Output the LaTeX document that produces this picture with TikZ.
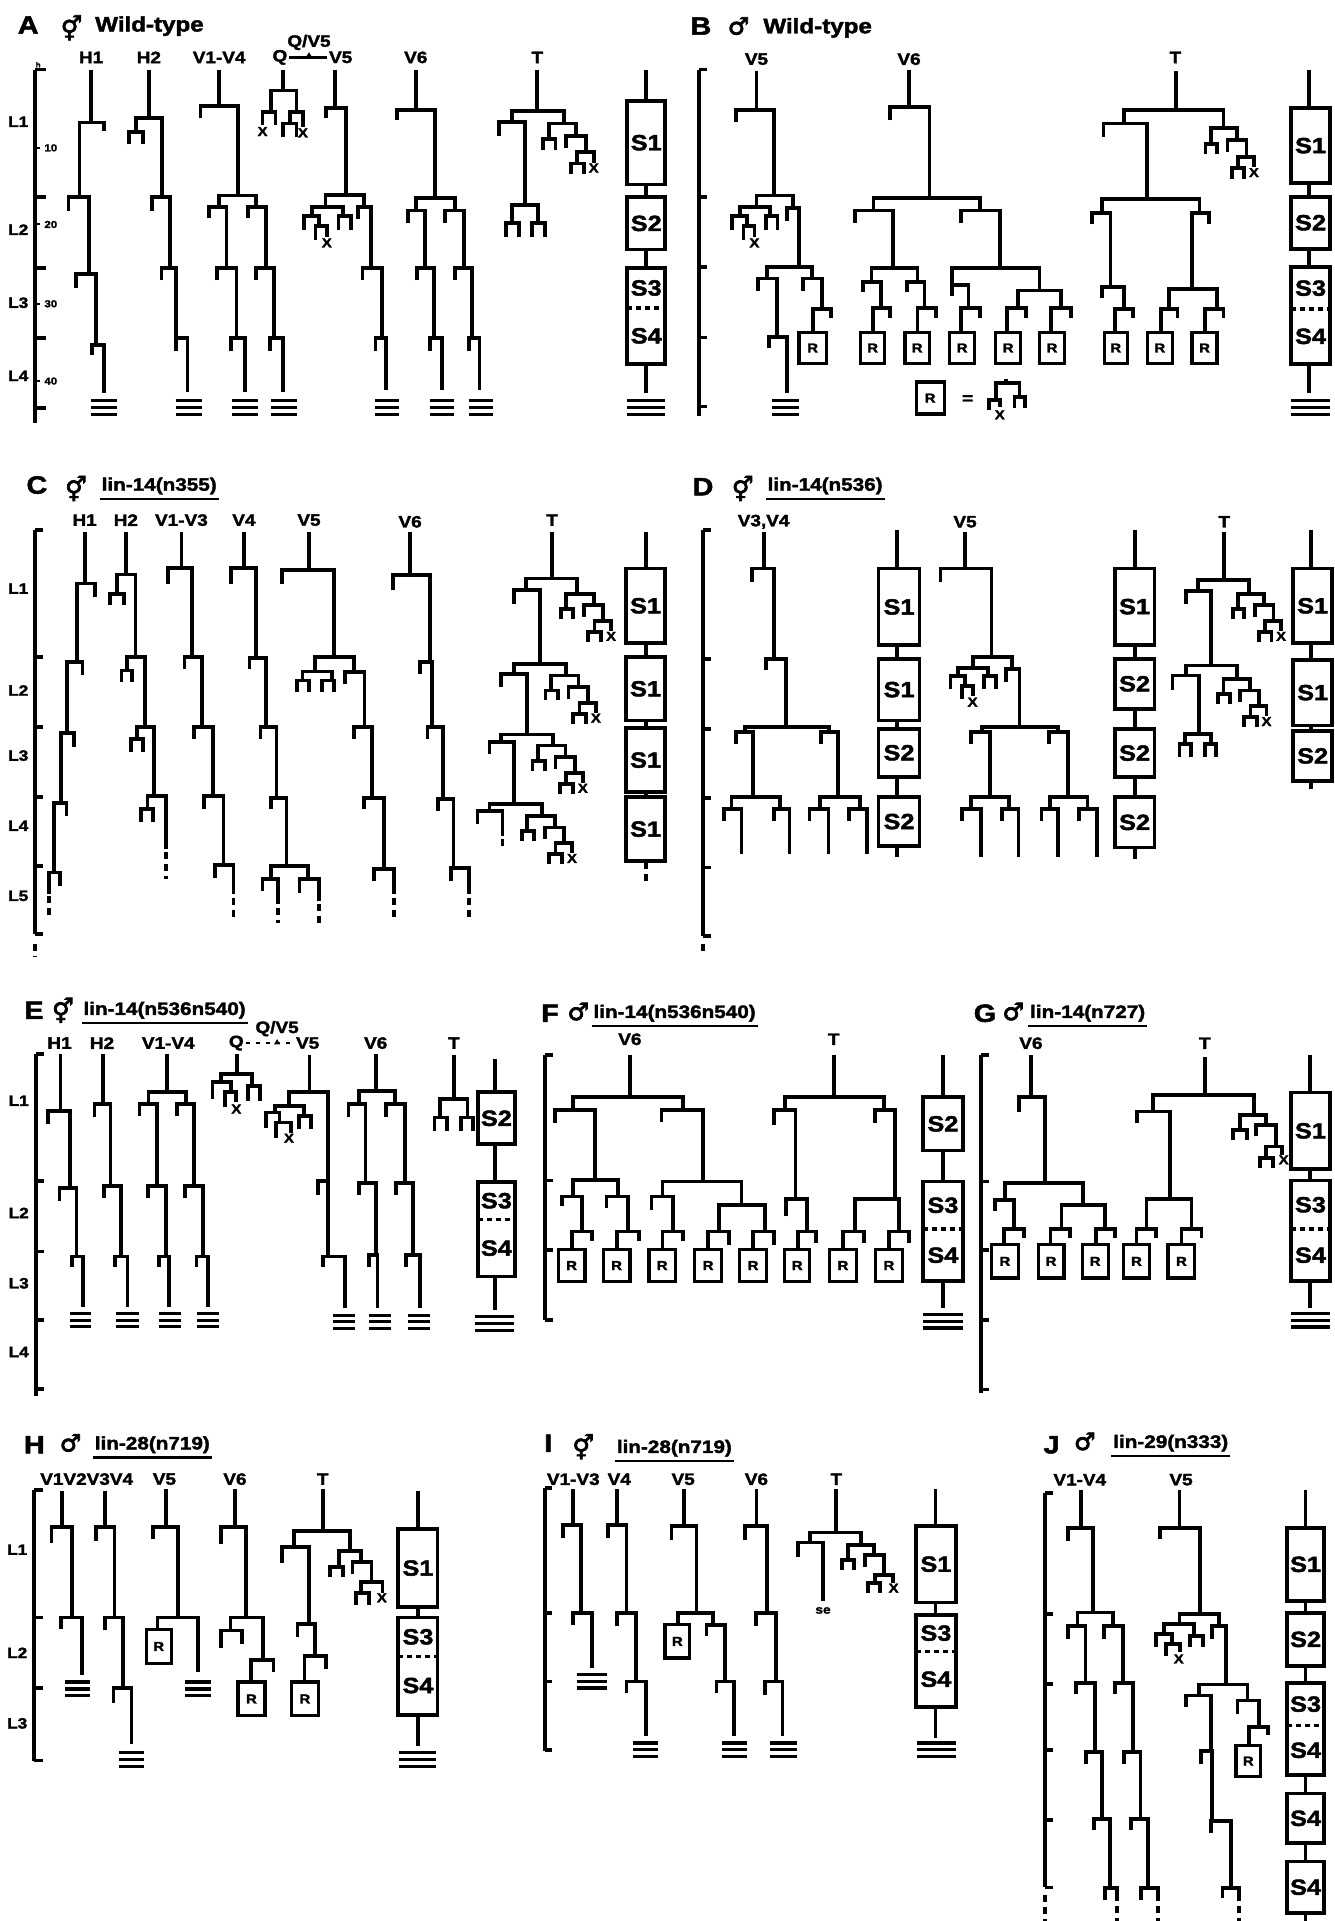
\documentclass[tikz,border=0pt]{standalone}
\usepackage{fontspec}
\setmainfont{Liberation Sans}[BoldFeatures={FakeBold=2,FakeStretch=1.15}]
\newfontfamily\symf{DejaVu Sans}[FakeBold=3]
\newcount\nc
\newcommand\mvl[3]{\draw (#1,#2)--(#1,#3);}
\newcommand\mdv[3]{\draw[dash pattern=on 7pt off 5pt] (#1,#2)--(#1,#3);}
\newcommand\mfk[5]{\draw (#1,#4)--(#1,#3)--(#2,#3)--(#2,#5);}
\newcommand\mtb[3]{\draw[line width=3.2pt] (#1,#3)--(#2,#3) (#1,#3+20)--(#2,#3+20) (#1,#3+40)--(#2,#3+40);}
\newcommand\mxd[2]{\global\advance\nc by 1 \node[xm] (x\the\nc) at (#1,#2) {X};}
\newcommand\mRb[4]{\global\advance\nc by 1 \draw[line width=3.3pt] (#1,#3) rectangle (#2,#4); \node[rl] (r\the\nc) at ({(#1+#2)/2},{(#3+#4)/2}) {R};}
\newcommand\mSb[5]{\global\advance\nc by 1 \draw (#1,#3) rectangle (#2,#4); \node[sl] (s\the\nc) at ({(#1+#2)/2},{(#3+#4)/2}) {#5};}
\newcommand\mSd[5]{\global\advance\nc by 1 \draw (#1,#3) rectangle (#2,#5); \draw[line width=3.3pt,dash pattern=on 5pt off 4pt] (#1,#4)--(#2,#4); \node[sl] (s\the\nc a) at ({(#1+#2)/2},{(#3+#4)/2}) {S3}; \node[sl] (s\the\nc b) at ({(#1+#2)/2},{(#4+#5)/2}) {S4};}
\newcommand\mul[1]{\draw[line width=2.6pt] (#1.south west)--(#1.south east);}
\newcommand\mTs[2]{%
 \mfk{#1}{#1+63}{#2}{#2+45}{#2+35}
 \mfk{#1-13}{#1+15}{#2+45}{#2+75}{#2+75}
 \mfk{#1+40}{#1+85}{#2+35}{#2+70}{#2+82}
 \mfk{#1+65}{#1+103}{#2+82}{#2+115}{#2+112}
 \mfk{#1+50}{#1+80}{#2+115}{#2+145}{#2+145}
 \mxd{#1+103}{#2+128}}
\newcommand\mVf[2]{%
 \mfk{#1}{#1+72}{#2}{#2+25}{#2+25}
 \mfk{#1-18}{#1+17}{#2+25}{#2+65}{#2+55}
 \mfk{#1+9}{#1+35}{#2+55}{#2+95}{#2+85}
 \mxd{#1+35}{#2+103}
 \mfk{#1+62}{#1+90}{#2+25}{#2+65}{#2+65}}
\begin{document}
\begin{tikzpicture}[x=1pt,y=-1pt,line width=3.8pt,line join=miter,
 lab/.style={font=\fontsize{16.5}{16.5}\selectfont\bfseries,inner sep=0pt},
 lL/.style={font=\fontsize{15}{15}\selectfont\bfseries,inner sep=0pt},
 ttl/.style={font=\fontsize{25}{25}\selectfont\bfseries,inner sep=0pt},
 wt/.style={font=\fontsize{21}{21}\selectfont\bfseries,inner sep=0pt,anchor=west},
 gen/.style={font=\fontsize{18}{18}\selectfont\bfseries,inner xsep=0pt,inner ysep=2.5pt,anchor=west},
 sl/.style={font=\fontsize{22}{22}\selectfont\bfseries,inner sep=0pt},
 rl/.style={font=\fontsize{13}{13}\selectfont\bfseries,inner sep=0pt},
 xm/.style={font=\fontsize{13}{13}\selectfont\bfseries,inner sep=0pt},
 hr/.style={font=\fontsize{10}{10}\selectfont\bfseries,inner sep=0pt},
 sym/.style={font=\fontsize{24}{24}\selectfont\symf,inner sep=0pt}]
\fill[white] (0,0) rectangle (1335,1921);
\useasboundingbox (0,0) rectangle (1335,1921);
% ================= A
\begin{scope}[xscale=.434,yscale=.348]
\node[ttl] (tA) at (65,72) {A};
\node[sym] (gA) at (165,80) {⚥};
\node[wt] (wA) at (215,75) {Wild-type};
\node[lab] (aH1) at (210,165) {H1};
\node[lab] (aH2) at (343,165) {H2};
\node[lab] (aV14) at (505,165) {V1-V4};
\node[lab] (aQ) at (645,165) {Q};
\node[lab] (aV5) at (785,165) {V5};
\node[lab] (aV6) at (958,165) {V6};
\node[lab] (aT) at (1238,165) {T};
\node[lab] (aQV) at (712,122) {Q/V5};
\draw[line width=2.2pt] (aQ.east)--(aV5.west);
\fill (703,168)--(721,168)--(712,150)--cycle;
\node[font=\fontsize{7}{7}\selectfont\bfseries,inner sep=0pt] (ah) at (88,186) {h};
\mvl{80}{200}{1215}
\foreach \t in {200,567,770,972,1172} \draw (80,\t)--(105,\t);
\foreach \t/\n in {425/10,645/20,873/30,1095/40} {\draw[line width=2pt] (80,\t)--(92,\t); \node[hr,anchor=west] (ah\n) at (98,\t) {\n};}
\node[lL] (aL1) at (42,350) {L1};
\node[lL] (aL2) at (42,660) {L2};
\node[lL] (aL3) at (42,870) {L3};
\node[lL] (aL4) at (42,1080) {L4};
% H1
\mvl{210}{200}{352} \mfk{183}{240}{352}{565}{375} \mfk{158}{205}{565}{605}{787} \mfk{175}{222}{787}{827}{992} \mfk{212}{240}{992}{1020}{1130} \mtb{210}{270}{1150}
% H2
\mvl{343}{200}{340} \mfk{313}{373}{340}{380}{565} \mfk{298}{330}{380}{415}{415} \mfk{350}{392}{565}{605}{770} \mfk{372}{405}{770}{805}{972} \mfk{405}{432}{972}{1010}{1125} \mtb{405}{465}{1150}
% V1-V4
\mvl{505}{200}{305} \mfk{462}{548}{305}{340}{562} \mfk{505}{590}{562}{595}{595}
\mfk{482}{522}{595}{625}{770} \mfk{572}{612}{595}{625}{770}
\mfk{500}{545}{770}{805}{972} \mfk{590}{632}{770}{805}{972}
\mfk{532}{565}{972}{1010}{1125} \mfk{622}{652}{972}{1010}{1125}
\mtb{535}{595}{1150} \mtb{625}{685}{1150}
% Q
\mvl{652}{200}{260} \mfk{625}{683}{260}{322}{322} \mfk{605}{635}{322}{360}{360} \mxd{605}{378}
\mfk{668}{698}{322}{355}{365} \mxd{698}{382} \mfk{652}{683}{355}{395}{395}
% V5
\mvl{772}{200}{310} \mfk{752}{797}{310}{340}{560} \mfk{750}{838}{560}{595}{595} \mVf{718}{595}
\mfk{825}{855}{595}{630}{770} \mfk{835}{880}{770}{805}{972} \mfk{865}{890}{972}{1010}{1120} \mtb{865}{920}{1150}
% V6
\mvl{958}{200}{315} \mfk{915}{1003}{315}{345}{570} \mfk{958}{1048}{570}{605}{605}
\mfk{940}{980}{605}{640}{770} \mfk{1025}{1070}{605}{640}{770}
\mfk{960}{1000}{770}{805}{972} \mfk{1048}{1088}{770}{805}{972}
\mfk{990}{1018}{972}{1010}{1120} \mfk{1080}{1105}{972}{1010}{1120}
\mtb{990}{1045}{1150} \mtb{1080}{1135}{1150}
% T
\mvl{1238}{200}{320} \mfk{1180}{1300}{320}{350}{355} \mfk{1150}{1210}{350}{390}{590}
\mfk{1180}{1240}{590}{640}{640} \mfk{1165}{1195}{640}{680}{680} \mfk{1225}{1255}{640}{680}{680}
\mTs{1265}{355}
% S
\mvl{1488}{200}{290} \mSb{1445}{1533}{290}{530}{S1} \mvl{1488}{530}{567} \mSb{1445}{1533}{567}{717}{S2}
\mvl{1488}{717}{770} \mSd{1445}{1533}{770}{885}{1045} \mvl{1488}{1045}{1130} \mtb{1445}{1533}{1150}
\end{scope}
% ================= B
\begin{scope}[shift={(680,0)},xscale=.418,yscale=.348]
\node[ttl] (tB) at (50,75) {B};
\node[sym] (gB) at (140,75) {♂};
\node[wt] (wB) at (195,80) {Wild-type};
\node[lab] (bV5) at (183,170) {V5};
\node[lab] (bV6) at (548,170) {V6};
\node[lab] (bT) at (1185,165) {T};
\mvl{45}{200}{1195}
\foreach \t in {200,565,768,970,1168} \draw (45,\t)--(65,\t);
% V5
\mvl{183}{205}{315} \mfk{133}{225}{315}{350}{562} \mfk{183}{270}{562}{595}{598} \mVf{143}{595}
\mfk{255}{285}{598}{635}{768} \mfk{208}{315}{768}{800}{800}
\mfk{187}{232}{800}{835}{968} \mfk{213}{255}{968}{1000}{1130} \mtb{220}{285}{1150}
\mfk{295}{340}{800}{835}{887} \mfk{318}{362}{887}{955}{915} \mRb{285}{350}{955}{1045}
% V6
\mvl{548}{200}{308} \mfk{503}{597}{308}{345}{568} \mfk{463}{717}{568}{605}{605}
\mfk{418}{510}{605}{640}{770} \mfk{458}{568}{770}{810}{810}
\mfk{437}{480}{810}{840}{885} \mfk{462}{503}{885}{955}{915} \mRb{432}{490}{955}{1045}
\mfk{543}{585}{810}{840}{885} \mfk{568}{612}{885}{955}{915} \mRb{538}{597}{955}{1045}
\mfk{672}{765}{605}{640}{770} \mfk{650}{860}{770}{818}{835}
\mfk{650}{690}{818}{850}{885} \mfk{673}{718}{885}{955}{915} \mRb{645}{705}{955}{1045}
\mfk{808}{912}{835}{885}{885}
\mfk{782}{827}{885}{955}{915} \mRb{755}{815}{955}{1045}
\mfk{888}{935}{885}{955}{915} \mRb{860}{920}{955}{1045}
% T
\mvl{1187}{205}{315} \mfk{1063}{1300}{315}{355}{368} \mfk{1013}{1117}{355}{395}{572}
\mfk{1010}{1243}{572}{612}{612} \mfk{985}{1030}{612}{645}{825} \mfk{1010}{1062}{825}{855}{887}
\mfk{1040}{1083}{887}{955}{915} \mRb{1015}{1070}{955}{1045}
\mfk{1225}{1265}{612}{830}{645} \mfk{1170}{1285}{830}{887}{887}
\mfk{1150}{1190}{887}{955}{915} \mRb{1118}{1178}{955}{1045}
\mfk{1255}{1300}{887}{955}{915} \mRb{1225}{1285}{955}{1045}
\mTs{1270}{368}
% S
\mvl{1505}{200}{310} \mSb{1462}{1555}{310}{527}{S1} \mvl{1505}{527}{565} \mSb{1462}{1555}{565}{715}{S2}
\mvl{1505}{715}{768} \mSd{1462}{1555}{768}{888}{1045} \mvl{1505}{1045}{1130} \mtb{1462}{1555}{1150}
% legend
\mRb{565}{632}{1098}{1190}
\node[lab] (beq) at (688,1148) {=};
\mvl{780}{1088}{1100} \mfk{755}{812}{1100}{1150}{1140} \mfk{740}{765}{1150}{1178}{1170} \mxd{765}{1192} \mfk{800}{825}{1140}{1172}{1172}
\end{scope}
% ================= C
\begin{scope}[shift={(0,460)},xscale=.434,yscale=.334]
\node[ttl] (tC) at (85,75) {C};
\node[sym] (gC) at (175,85) {⚥};
\node[gen] (nC) at (230,78) {lin-14(n355)}; \mul{nC}
\node[lab] (cH1) at (195,180) {H1};
\node[lab] (cH2) at (290,180) {H2};
\node[lab] (cV13) at (418,180) {V1-V3};
\node[lab] (cV4) at (562,180) {V4};
\node[lab] (cV5) at (712,180) {V5};
\node[lab] (cV6) at (945,185) {V6};
\node[lab] (cT) at (1272,180) {T};
\mvl{80}{210}{1420} \mdv{80}{1448}{1485}
\foreach \t in {210,590,800,1010,1215,1420} \draw (80,\t)--(100,\t);
\node[lL] (cL1) at (42,385) {L1};
\node[lL] (cL2) at (42,690) {L2};
\node[lL] (cL3) at (42,885) {L3};
\node[lL] (cL4) at (42,1095) {L4};
\node[lL] (cL5) at (42,1305) {L5};
% H1
\mvl{195}{215}{370} \mfk{178}{218}{370}{605}{410} \mfk{155}{190}{605}{818}{645} \mfk{140}{170}{818}{1028}{860}
\mfk{125}{153}{1028}{1235}{1065} \mfk{112}{138}{1235}{1300}{1275} \mdv{112}{1305}{1370}
% H2
\mvl{290}{215}{343} \mfk{270}{312}{343}{400}{590} \mfk{253}{285}{400}{435}{435}
\mfk{293}{335}{590}{630}{800} \mfk{280}{305}{630}{665}{665}
\mfk{315}{355}{800}{835}{1005} \mfk{302}{330}{835}{875}{875}
\mfk{340}{382}{1005}{1045}{1165} \mfk{325}{352}{1045}{1085}{1085} \mdv{382}{1175}{1255}
% V1-V3
\mvl{418}{215}{323} \mfk{387}{443}{323}{370}{590} \mfk{425}{465}{590}{625}{800} \mfk{447}{490}{800}{835}{1005}
\mfk{470}{515}{1005}{1045}{1212} \mfk{495}{538}{1212}{1250}{1300} \mdv{538}{1310}{1375}
% V4
\mvl{562}{215}{323} \mfk{532}{590}{323}{370}{593} \mfk{575}{612}{593}{625}{800} \mfk{600}{637}{800}{835}{1012}
\mfk{625}{660}{1012}{1045}{1215} \mfk{625}{710}{1215}{1255}{1255}
\mfk{605}{640}{1255}{1290}{1330} \mdv{640}{1340}{1385} \mfk{690}{735}{1255}{1295}{1320} \mdv{735}{1330}{1390}
% V5
\mvl{712}{215}{330} \mfk{650}{770}{330}{370}{590} \mfk{725}{815}{590}{633}{635}
\mfk{697}{765}{633}{660}{660} \mfk{685}{712}{660}{695}{695} \mfk{742}{770}{660}{695}{695}
\mfk{795}{840}{635}{670}{800} \mfk{815}{858}{800}{835}{1012} \mfk{838}{885}{1012}{1045}{1225}
\mfk{862}{908}{1225}{1260}{1300} \mdv{908}{1310}{1370}
% V6
\mvl{945}{215}{345} \mfk{905}{990}{345}{390}{605} \mfk{968}{995}{605}{640}{800} \mfk{985}{1020}{800}{835}{1015}
\mfk{1010}{1045}{1015}{1050}{1222} \mfk{1040}{1080}{1222}{1260}{1300} \mdv{1080}{1310}{1370}
% T
\mvl{1272}{215}{355} \mfk{1212}{1330}{355}{390}{400} \mTs{1305}{400}
\mfk{1185}{1245}{390}{430}{610} \mfk{1185}{1305}{610}{640}{645} \mTs{1270}{645}
\mfk{1155}{1215}{640}{680}{822} \mfk{1155}{1275}{822}{845}{855} \mTs{1240}{855}
\mfk{1128}{1185}{845}{880}{1030} \mfk{1128}{1248}{1030}{1050}{1065} \mTs{1215}{1065}
\mfk{1100}{1158}{1050}{1090}{1125} \mdv{1158}{1135}{1170}
% S
\mvl{1488}{215}{325} \mSb{1443}{1532}{325}{548}{S1} \mvl{1488}{548}{590} \mSb{1443}{1532}{590}{780}{S1}
\mvl{1488}{780}{802} \mSb{1443}{1532}{802}{995}{S1} \mvl{1488}{995}{1010} \mSb{1443}{1532}{1010}{1200}{S1}
\mdv{1488}{1205}{1275}
\end{scope}
% ================= D
\begin{scope}[shift={(680,460)},xscale=.418,yscale=.334]
\node[ttl] (tD) at (55,80) {D};
\node[sym] (gD) at (150,85) {⚥};
\node[gen] (nD) at (205,78) {lin-14(n536)}; \mul{nD}
\node[lab] (dV34) at (200,185) {V3,V4};
\node[lab] (dV5) at (682,185) {V5};
\node[lab] (dT) at (1302,185) {T};
\mvl{55}{210}{1425} \mdv{55}{1450}{1485}
\foreach \t in {210,595,805,1012,1220,1425} \draw (55,\t)--(75,\t);
% V3,V4
\mvl{200}{215}{325} \mfk{173}{225}{325}{365}{595} \mfk{205}{253}{595}{630}{800} \mfk{155}{357}{800}{815}{815}
\mfk{133}{175}{815}{850}{1010} \mfk{123}{240}{1010}{1045}{1045}
\mfk{105}{147}{1045}{1080}{1180} \mfk{225}{262}{1045}{1080}{1180}
\mfk{338}{378}{815}{850}{1010} \mfk{335}{430}{1010}{1045}{1045}
\mfk{310}{355}{1045}{1080}{1180} \mfk{405}{447}{1045}{1080}{1180}
% S col1
\mvl{520}{210}{325} \mSb{475}{573}{325}{555}{S1} \mvl{520}{555}{595} \mSb{475}{573}{595}{780}{S1}
\mvl{520}{780}{805} \mSb{475}{573}{805}{948}{S2} \mvl{520}{948}{1010} \mSb{475}{573}{1010}{1155}{S2} \mvl{520}{1155}{1190}
% V5
\mvl{682}{215}{325} \mfk{623}{745}{325}{365}{590} \mfk{700}{795}{590}{622}{625} \mVf{665}{622}
\mfk{780}{812}{625}{665}{800} \mfk{722}{905}{800}{815}{815}
\mfk{697}{742}{815}{850}{1010} \mfk{697}{787}{1010}{1045}{1045}
\mfk{675}{720}{1045}{1080}{1190} \mfk{770}{810}{1045}{1080}{1190}
\mfk{883}{928}{815}{850}{1010} \mfk{885}{975}{1010}{1045}{1045}
\mfk{865}{905}{1045}{1080}{1190} \mfk{955}{998}{1045}{1080}{1190}
% S col2
\mvl{1088}{210}{325} \mSb{1040}{1135}{325}{553}{S1} \mvl{1088}{553}{595} \mSb{1040}{1135}{595}{745}{S2}
\mvl{1088}{745}{805} \mSb{1040}{1135}{805}{950}{S2} \mvl{1088}{950}{1010} \mSb{1040}{1135}{1010}{1160}{S2} \mvl{1088}{1160}{1195}
% T
\mvl{1302}{215}{360} \mfk{1240}{1362}{360}{393}{400} \mTs{1335}{400}
\mfk{1210}{1270}{393}{430}{615} \mfk{1210}{1333}{615}{645}{655} \mTs{1300}{655}
\mfk{1178}{1242}{645}{690}{820} \mfk{1208}{1270}{820}{850}{850}
\mfk{1195}{1222}{850}{890}{890} \mfk{1255}{1282}{850}{890}{890}
% S col3
\mvl{1510}{210}{325} \mSb{1467}{1560}{325}{548}{S1} \mvl{1510}{548}{598} \mSb{1467}{1560}{598}{795}{S1}
\mvl{1510}{795}{812} \mSb{1467}{1560}{812}{960}{S2} \mvl{1510}{960}{985}
\end{scope}
% ================= E
\begin{scope}[shift={(0,960)},xscale=.34,yscale=.335]
\node[ttl] (tE) at (100,150) {E};
\node[sym] (gE) at (185,150) {⚥};
\node[gen] (nE) at (240,150) {lin-14(n536n540)}; \mul{nE}
\node[lab] (eH1) at (175,248) {H1};
\node[lab] (eH2) at (300,248) {H2};
\node[lab] (eV14) at (495,248) {V1-V4};
\node[lab] (eQ) at (695,248) {Q};
\node[lab] (eV5) at (905,248) {V5};
\node[lab] (eV6) at (1105,248) {V6};
\node[lab] (eT) at (1335,248) {T};
\node[lab] (eQV) at (815,205) {Q/V5};
\draw[line width=2.2pt,dash pattern=on 4pt off 6pt] (eQ.east)--(eV5.west);
\fill (806,252)--(824,252)--(815,236)--cycle;
\mvl{105}{280}{1300}
\foreach \t in {280,660,870,1075,1280} \draw (105,\t)--(128,\t);
\node[lL] (eL1) at (55,420) {L1};
\node[lL] (eL2) at (55,755) {L2};
\node[lL] (eL3) at (55,965) {L3};
\node[lL] (eL4) at (55,1170) {L4};
% H1
\mvl{178}{280}{450} \mfk{142}{205}{450}{490}{680} \mfk{175}{225}{680}{720}{885} \mfk{212}{245}{885}{915}{1035} \mtb{205}{268}{1055}
% H2
\mvl{302}{280}{430} \mfk{278}{325}{430}{470}{675} \mfk{305}{355}{675}{710}{885} \mfk{338}{375}{885}{915}{1035} \mtb{340}{408}{1055}
% V1-V4
\mvl{490}{280}{395} \mfk{437}{548}{395}{430}{430} \mfk{410}{462}{430}{465}{675} \mfk{520}{570}{430}{465}{675}
\mfk{435}{488}{675}{710}{885} \mfk{545}{598}{675}{710}{885}
\mfk{467}{498}{885}{915}{1035} \mfk{578}{612}{885}{915}{1035}
\mtb{468}{532}{1055} \mtb{580}{645}{1055}
% Q
\mvl{697}{280}{340} \mfk{650}{742}{340}{365}{375} \mfk{625}{680}{365}{415}{395}
\mfk{662}{695}{395}{440}{425} \mxd{695}{445} \mfk{730}{765}{375}{420}{420}
% V5
\mvl{910}{285}{395} \mfk{850}{965}{395}{435}{660}
\mfk{808}{893}{435}{455}{465} \mfk{782}{822}{455}{500}{485} \mfk{812}{855}{485}{530}{515} \mxd{850}{532}
\mfk{880}{915}{465}{505}{505}
\mfk{935}{965}{660}{700}{885} \mfk{950}{1015}{885}{915}{1040} \mtb{980}{1045}{1060}
% V6
\mvl{1105}{280}{390} \mfk{1055}{1162}{390}{430}{430}
\mfk{1025}{1075}{430}{470}{665} \mfk{1135}{1190}{430}{470}{665}
\mfk{1055}{1105}{665}{700}{880} \mfk{1165}{1215}{665}{700}{880}
\mfk{1085}{1110}{880}{915}{1040} \mfk{1195}{1235}{880}{915}{1040}
\mtb{1085}{1150}{1060} \mtb{1200}{1265}{1060}
% T
\mvl{1335}{285}{415} \mfk{1295}{1375}{415}{470}{470} \mfk{1278}{1315}{470}{510}{510} \mfk{1355}{1390}{470}{510}{510}
% S
\mvl{1455}{295}{395} \mSb{1405}{1515}{395}{550}{S2} \mvl{1455}{550}{662} \mSd{1405}{1515}{662}{775}{945}
\mvl{1455}{945}{1045} \mtb{1398}{1512}{1065}
\end{scope}
% ================= F
\begin{scope}[shift={(530,960)},scale=.333]
\node[ttl] (tF) at (60,160) {F};
\node[sym] (gF) at (145,155) {♂};
\node[gen] (nF) at (185,160) {lin-14(n536n540)}; \mul{nF}
\node[lab] (fV6) at (300,238) {V6};
\node[lab] (fT) at (912,238) {T};
\mvl{45}{285}{1080}
\foreach \t in {285,662,872,1080} \draw (45,\t)--(70,\t);
% V6
\mvl{300}{285}{412} \mfk{130}{460}{412}{450}{450} \mfk{75}{195}{450}{490}{660} \mfk{395}{520}{450}{485}{665}
\mfk{128}{265}{660}{710}{710} \mfk{95}{155}{710}{740}{815} \mfk{125}{185}{815}{870}{845} \mRb{85}{165}{870}{965}
\mfk{230}{295}{710}{745}{815} \mfk{262}{328}{815}{870}{845} \mRb{220}{300}{870}{965}
\mfk{398}{635}{665}{710}{735} \mfk{365}{430}{710}{750}{815} \mfk{398}{460}{815}{870}{845} \mRb{357}{437}{870}{965}
\mfk{567}{705}{735}{815}{815} \mfk{535}{598}{815}{870}{855} \mRb{495}{575}{870}{965}
\mfk{670}{733}{815}{870}{855} \mRb{630}{710}{870}{965}
% T
\mvl{912}{285}{412} \mfk{765}{1062}{412}{450}{450}
\mfk{733}{797}{450}{495}{718} \mfk{768}{833}{718}{770}{815} \mfk{805}{860}{815}{870}{850} \mRb{765}{840}{870}{965}
\mfk{1035}{1095}{450}{490}{718} \mfk{975}{1108}{718}{815}{815}
\mfk{940}{1003}{815}{870}{850} \mRb{900}{980}{870}{965}
\mfk{1078}{1138}{815}{870}{850} \mRb{1038}{1118}{870}{965}
% S
\mvl{1240}{285}{412} \mSb{1180}{1300}{412}{572}{S2} \mvl{1240}{572}{665} \mSd{1180}{1300}{665}{808}{965}
\mvl{1240}{965}{1045} \mtb{1180}{1300}{1065}
\end{scope}
% ================= G
\begin{scope}[shift={(960,960)},scale=.333]
\node[ttl] (tG) at (75,160) {G};
\node[sym] (gG) at (160,155) {♂};
\node[gen] (nG) at (205,160) {lin-14(n727)}; \mul{nG}
\node[lab] (gV6) at (213,250) {V6};
\node[lab] (gT) at (735,250) {T};
\mvl{62}{285}{1300}
\foreach \t in {285,665,872,1082,1290} \draw (62,\t)--(88,\t);
% V6
\mvl{213}{285}{412} \mfk{177}{255}{412}{455}{670} \mfk{135}{370}{670}{720}{735}
\mfk{105}{163}{720}{755}{808} \mfk{133}{192}{808}{855}{835} \mRb{95}{175}{855}{955}
\mfk{305}{435}{735}{808}{808} \mfk{272}{330}{808}{855}{835} \mRb{235}{312}{855}{955}
\mfk{408}{465}{808}{855}{835} \mRb{367}{445}{855}{955}
% T
\mvl{735}{290}{405} \mfk{580}{882}{405}{455}{465}
\mfk{532}{630}{455}{490}{718} \mfk{560}{695}{718}{808}{808}
\mfk{530}{588}{808}{855}{835} \mRb{490}{570}{855}{955}
\mfk{665}{725}{808}{855}{835} \mRb{625}{705}{855}{955}
\mfk{842}{920}{465}{510}{495} \mfk{820}{862}{510}{540}{540} \mfk{888}{950}{495}{530}{560}
\mfk{918}{968}{560}{595}{585} \mfk{900}{940}{595}{625}{625} \mxd{972}{600}
% S
\mvl{1050}{285}{398} \mSb{995}{1110}{398}{628}{S1} \mvl{1050}{628}{662} \mSd{995}{1110}{662}{808}{965}
\mvl{1050}{965}{1045} \mtb{995}{1110}{1062}
\end{scope}
% ================= H
\begin{scope}[shift={(0,1400)},scale=.344]
\node[ttl] (tH) at (100,130) {H};
\node[sym] (gH) at (205,125) {♂};
\node[gen] (nH) at (270,130) {lin-28(n719)}; \mul{nH}
\node[lab] (hV14) at (252,230) {V1V2V3V4};
\node[lab] (hV5) at (478,230) {V5};
\node[lab] (hV6) at (683,230) {V6};
\node[lab] (hT) at (938,230) {T};
\mvl{100}{262}{1050}
\foreach \t in {262,632,838,1048} \draw (100,\t)--(125,\t);
\node[lL] (hL1) at (50,435) {L1};
\node[lL] (hL2) at (50,735) {L2};
\node[lL] (hL3) at (50,940) {L3};
% V1V2
\mvl{180}{265}{370} \mfk{150}{210}{370}{415}{632} \mfk{178}{238}{632}{665}{800} \mtb{190}{262}{820}
% V3V4
\mvl{305}{265}{370} \mfk{278}{333}{370}{410}{632} \mfk{305}{358}{632}{670}{838} \mfk{330}{382}{838}{880}{1000} \mtb{345}{418}{1025}
% V5
\mvl{483}{260}{370} \mfk{445}{518}{370}{405}{632} \mfk{458}{575}{632}{668}{790} \mRb{425}{498}{668}{765} \mtb{538}{612}{820}
% V6
\mvl{683}{260}{370} \mfk{643}{715}{370}{420}{632} \mfk{670}{765}{632}{670}{755}
\mfk{643}{703}{670}{720}{710} \mfk{730}{795}{755}{820}{790} \mRb{692}{770}{820}{918}
% T
\mvl{938}{260}{380} \mfk{855}{1018}{380}{428}{440} \mfk{820}{898}{428}{475}{650}
\mfk{865}{915}{650}{690}{745} \mfk{885}{948}{745}{820}{782} \mRb{848}{925}{820}{918}
\mfk{985}{1050}{440}{485}{470} \mfk{960}{998}{485}{515}{515} \mfk{1025}{1080}{470}{505}{530}
\mfk{1050}{1112}{530}{560}{560} \mfk{1035}{1072}{560}{595}{595} \mxd{1110}{575}
% S
\mvl{1215}{265}{375} \mSb{1158}{1272}{375}{602}{S1} \mvl{1215}{602}{632} \mSd{1158}{1272}{632}{745}{915}
\mvl{1215}{915}{1005} \mtb{1160}{1268}{1025}
\end{scope}
% ================= I
\begin{scope}[shift={(530,1400)},scale=.333]
\node[ttl] (tI) at (55,130) {I};
\node[sym] (gI) at (160,140) {⚥};
\node[gen] (nI) at (255,145) {lin-28(n719)}; \mul{nI}
\node[lab] (iV13) at (130,238) {V1-V3};
\node[lab] (iV4) at (268,238) {V4};
\node[lab] (iV5) at (460,238) {V5};
\node[lab] (iV6) at (680,238) {V6};
\node[lab] (iT) at (920,238) {T};
\mvl{45}{265}{1055}
\foreach \t in {265,640,845,1052} \draw (45,\t)--(65,\t);
% V1-V3
\mvl{128}{268}{375} \mfk{100}{152}{375}{415}{640} \mfk{128}{185}{640}{675}{805} \mtb{140}{232}{825}
% V4
\mvl{262}{268}{375} \mfk{235}{290}{375}{415}{640} \mfk{262}{318}{640}{680}{845} \mfk{290}{348}{845}{880}{1010} \mtb{308}{385}{1030}
% V5
\mvl{462}{268}{378} \mfk{425}{500}{378}{420}{640} \mfk{445}{550}{640}{675}{675} \mRb{405}{480}{675}{775}
\mfk{530}{585}{675}{710}{845} \mfk{560}{612}{845}{880}{1010} \mtb{578}{652}{1030}
% V6
\mvl{680}{268}{378} \mfk{645}{712}{378}{420}{640} \mfk{678}{738}{640}{680}{845} \mfk{705}{758}{845}{885}{1010} \mtb{722}{802}{1030}
% T
\mvl{918}{268}{398} \mfk{840}{995}{398}{428}{435} \mfk{805}{880}{428}{470}{605}
\node[font=\fontsize{12}{12}\selectfont\bfseries,inner sep=0pt] (ise) at (880,632) {se};
\mfk{955}{1032}{435}{480}{465} \mfk{938}{972}{480}{510}{510} \mfk{1005}{1062}{465}{500}{525}
\mfk{1035}{1090}{525}{550}{550} \mfk{1015}{1052}{550}{580}{580} \mxd{1092}{565}
% S
\mvl{1218}{268}{378} \mSb{1158}{1280}{378}{608}{S1} \mvl{1218}{608}{645} \mSd{1158}{1280}{645}{755}{922}
\mvl{1218}{922}{1015} \mtb{1162}{1278}{1030}
\end{scope}
% ================= J
\begin{scope}[shift={(1030,1400)},scale=.332]
\node[ttl] (tJ) at (65,135) {J};
\node[sym] (gJ) at (165,125) {♂};
\node[gen] (nJ) at (245,130) {lin-29(n333)}; \mul{nJ}
\node[lab] (jV14) at (150,240) {V1-V4};
\node[lab] (jV5) at (455,240) {V5};
\mvl{45}{280}{1468} \mdv{45}{1490}{1568}
\foreach \t in {280,645,855,1055,1265,1468} \draw (45,\t)--(70,\t);
% V1-V4
\mvl{153}{272}{385} \mfk{115}{190}{385}{425}{640} \mfk{143}{250}{640}{680}{680}
\mfk{115}{167}{680}{720}{852} \mfk{138}{195}{852}{885}{1060} \mfk{168}{217}{1060}{1095}{1262}
\mfk{193}{240}{1262}{1295}{1470} \mfk{225}{262}{1470}{1505}{1510} \mdv{262}{1525}{1568}
\mfk{222}{280}{680}{720}{852} \mfk{255}{310}{852}{885}{1060} \mfk{283}{333}{1060}{1095}{1262}
\mfk{305}{355}{1262}{1295}{1470} \mfk{335}{385}{1470}{1505}{1510} \mdv{385}{1525}{1568}
% V5
\mvl{450}{272}{385} \mfk{392}{512}{385}{420}{645} \mfk{450}{570}{645}{675}{680}
\mfk{403}{495}{675}{705}{710} \mfk{380}{428}{705}{745}{735} \mfk{410}{452}{735}{770}{760} \mxd{448}{780}
\mfk{482}{520}{710}{745}{745} \mfk{548}{590}{680}{720}{857}
\mfk{510}{655}{857}{890}{905} \mfk{470}{545}{890}{925}{1058} \mfk{515}{548}{1058}{1095}{1268}
\mfk{545}{605}{1268}{1305}{1470} \mfk{580}{630}{1470}{1500}{1510} \mdv{630}{1525}{1568}
\mfk{625}{690}{905}{945}{985} \mfk{660}{718}{985}{1040}{1010} \mRb{620}{695}{1040}{1135}
% S
\mvl{830}{272}{385} \mSb{775}{885}{385}{605}{S1} \mvl{830}{605}{642} \mSb{775}{885}{642}{800}{S2}
\mvl{830}{800}{852} \mSd{775}{885}{852}{980}{1130} \mvl{830}{1130}{1185} \mSb{775}{885}{1185}{1335}{S4}
\mvl{830}{1335}{1390} \mSb{775}{885}{1390}{1545}{S4} \mvl{830}{1545}{1568}
\end{scope}
\end{tikzpicture}
\end{document}
